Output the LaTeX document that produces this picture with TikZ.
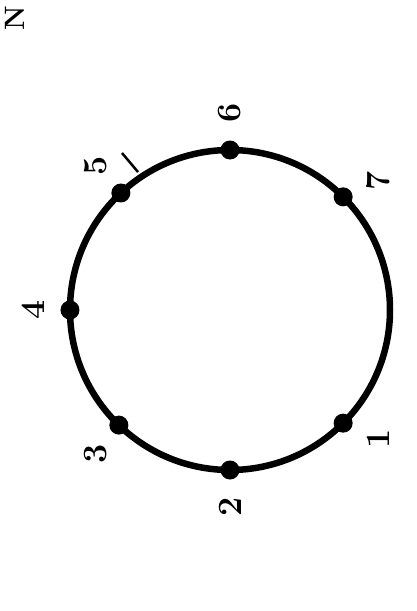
\documentclass[tikz,border=0pt]{standalone}
\usetikzlibrary{calc}
\begin{document}
\begin{tikzpicture}[
  x=1pt, y=1pt,
  ring/.style={line width=6.5pt},
  vertex/.style={circle, fill=black, inner sep=0pt, minimum size=19pt},
  num/.style={font=\fontsize{34}{34}\selectfont\bfseries, rotate=90, inner sep=0pt},
  tick/.style={line width=2.5pt},
]
  \useasboundingbox (-230,-301) rectangle (187,310);

  % the ring and its points
  \coordinate (c) at (0,0);
  \draw[ring] (c) circle[radius=160];
  \foreach \n/\a/\b in {1/-45/-41, 2/-90/-90, 3/-134/-133, 4/180/180, 5/133/133, 6/90/90, 7/45/41}{
    \node[num] (l\n) at (\b:197) {\n};
    \node[vertex] (p\n) at (\a:160) {};
  }

  % small mark beside 5
  \coordinate (t1) at (-108,157);
  \coordinate (t2) at (-92,138);
  \draw[tick] (t1) -- (t2);

  % corner letter
  \node[num, font=\fontsize{28}{28}\selectfont\bfseries] (corner) at (-215,292) {N};
\end{tikzpicture}
\end{document}
